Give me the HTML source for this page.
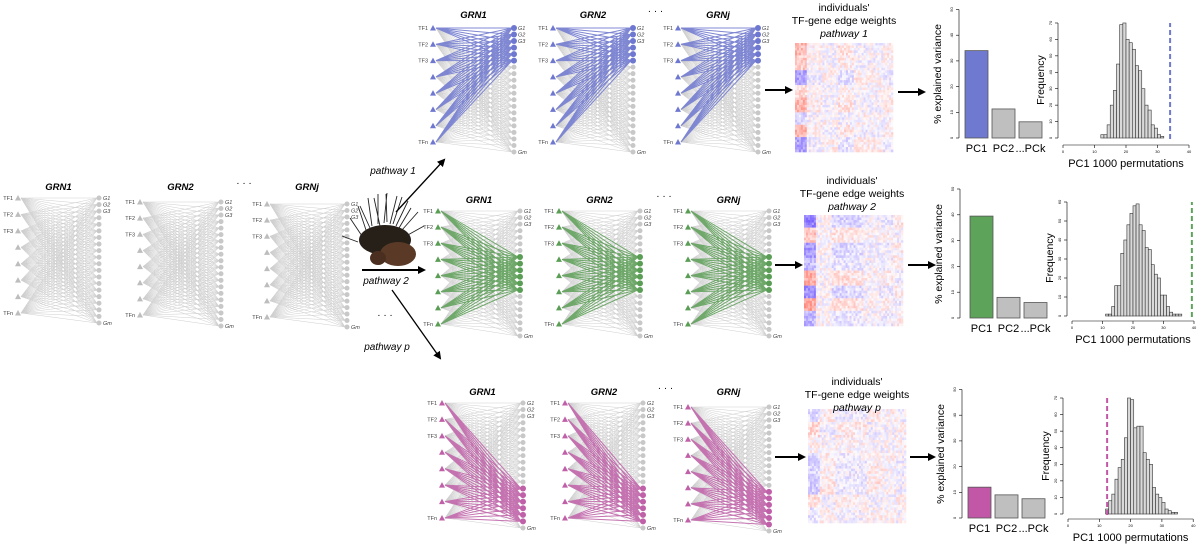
<!DOCTYPE html>
<html><head><meta charset="utf-8"><style>
html,body{margin:0;padding:0;background:#fff;}
svg{display:block;font-family:"Liberation Sans",sans-serif;}
</style></head><body>
<svg id="fig" width="1200" height="548" viewBox="0 0 1200 548" xmlns="http://www.w3.org/2000/svg">
<defs><marker id="ah" markerWidth="8" markerHeight="8" refX="6" refY="4" orient="auto" markerUnits="userSpaceOnUse"><path d="M0,0 L8,4 L0,8 z" fill="#000"/></marker></defs>
<g id="nets"></g>
<g id="misc">
  <g>
    <path d="M362,236 l-12,-18 M366,230 l-8,-24 M372,226 l-4,-28 M378,224 l0,-30 M384,223 l3,-30 M390,224 l7,-28 M396,226 l12,-25 M402,230 l16,-18 M406,236 l18,-10 M358,242 l-16,-6 M370,228 l-10,-22 M387,222 l-1,-28 M399,228 l12,-20 M380,226 l-6,-28 M393,224 l9,-27" stroke="#222" stroke-width="0.9"/>
    <ellipse cx="385" cy="240" rx="26" ry="15" fill="#262019"/>
    <ellipse cx="398" cy="254" rx="18" ry="12" fill="#5a3a26"/>
    <ellipse cx="378" cy="258" rx="8" ry="7" fill="#4a2f20"/>
  </g>
  <line x1="396" y1="212" x2="444" y2="160" stroke="#000" stroke-width="1.3" marker-end="url(#ah)"/>
  <line x1="362" y1="270" x2="424" y2="270" stroke="#000" stroke-width="2" marker-end="url(#ah)"/>
  <line x1="392" y1="290" x2="440" y2="358" stroke="#000" stroke-width="1.3" marker-end="url(#ah)"/>
  <text x="393" y="174" font-size="10" font-style="italic" text-anchor="middle">pathway 1</text>
  <text x="386" y="284" font-size="10" font-style="italic" text-anchor="middle">pathway 2</text>
  <text x="385" y="318" font-size="10" text-anchor="middle">· · ·</text>
  <text x="387" y="350" font-size="10" font-style="italic" text-anchor="middle">pathway p</text>
</g>
<g id="charts"></g>
</svg>
<script>
// ---- chart data ----
var barCats = ["PC1", "PC2", "...PCk"];
var barTop = [34, 11.3, 6.3];
var barMid = [39.5, 8, 6];
var barBot = [12, 9, 7.5];
var histBinsTop = [12,13,14,15,16,17,18,19,20,21,22,23,24,25,26,27,28,29,30,31];
var histTop = [2,2,8,20,29,45,69,70,60,58,54,44,41,30,20,17,8,6,2,1];
var histBinsMid = [11,12,13,14,15,16,17,18,19,20,21,22,23,24,25,26,27,28,29,30,31,32,33,34,35];
var histMid = [1,1,5,16,16,33,40,48,54,58,59,48,45,36,35,27,22,20,11,11,5,2,1,1,1];
var histBinsBot = [12,13,14,15,16,17,18,19,20,21,22,23,24,25,26,27,28,29,30,31,32,33,34];
var histBot = [3,8,12,21,28,33,46,70,69,52,53,53,37,33,30,16,12,10,7,3,2,1,1];
var obsTop = 34, obsMid = 39.3, obsBot = 12.5;
var xTicks = [0,10,20,30,40];

var NS = "http://www.w3.org/2000/svg";
function mk(tag, attrs, parent) {
  var e = document.createElementNS(NS, tag);
  for (var k in attrs) e.setAttribute(k, attrs[k]);
  parent.appendChild(e);
  return e;
}
function txt(s, attrs, parent) { var t = mk("text", attrs, parent); t.textContent = s; return t; }

// ---- networks ----
var nets = document.getElementById("nets");
function drawNet(name, tfx, gx, y0, yTfn, yGm, color, hi, title, ty) {
  var g = mk("g", {}, nets);
  
  
  var nTf = 8, nG = 20, i, j;
  var tfy = [], gy = [];
  for (i = 0; i < nTf; i++) tfy.push(y0 + (yTfn - y0) * i / (nTf - 1));
  for (j = 0; j < nG; j++) gy.push(y0 + (yGm - y0) * j / (nG - 1));
  var d = "";
  for (i = 0; i < nTf; i++) for (j = 0; j < nG; j++) d += "M" + (tfx + 3) + "," + tfy[i] + "L" + (gx - 2) + "," + gy[j];
  mk("path", {d: d, stroke: "#cfcfcf", "stroke-width": 0.5, fill: "none"}, g);
  if (color) {
    var d2 = "";
    for (i = 0; i < nTf; i++) hi.forEach(function (j) { d2 += "M" + (tfx + 3) + "," + tfy[i] + "L" + (gx - 2) + "," + gy[j]; });
    mk("path", {d: d2, stroke: color, "stroke-width": 1, fill: "none", opacity: 0.85}, g);
  }
  for (i = 0; i < nTf; i++) {
    var y = tfy[i];
    var tri = mk("path", {d: "M" + (tfx - 3) + "," + (y + 2.5) + "L" + tfx + "," + (y - 3) + "L" + (tfx + 3) + "," + (y + 2.5) + "z", fill: color || "#bdbdbd"}, g);
    
    
  }
  for (j = 0; j < nG; j++) {
    var on = color && hi.indexOf(j) >= 0;
    var c = mk("circle", {cx: gx, cy: gy[j], r: on ? 3 : 2.5, fill: on ? color : "#c8c8c8"}, g);
    
    
  }
  var lab = ["TF1", "TF2", "TF3"];
  for (i = 0; i < 3; i++) txt(lab[i], {x: tfx - 5, y: tfy[i] + 2, "font-size": 5.5, "text-anchor": "end", fill: "#444"}, g);
  txt("TFn", {x: tfx - 5, y: tfy[7] + 2, "font-size": 5.5, "text-anchor": "end", fill: "#444"}, g);
  var gl = ["G1", "G2", "G3"];
  for (j = 0; j < 3; j++) txt(gl[j], {x: gx + 4, y: gy[j] + 2, "font-size": 5.5, "font-style": "italic", fill: "#444"}, g);
  txt("Gm", {x: gx + 4, y: gy[19] + 2, "font-size": 5.5, "font-style": "italic", fill: "#444"}, g);
  var t = txt(title, {x: (tfx + gx) / 2, y: ty, "font-size": 9.5, "font-weight": "bold", "font-style": "italic", "text-anchor": "middle"}, g);
  
  
}
var rows = [
  {nm: "base", color: null, hi: [], ty: 190, n: [[18,99,198,313,323],[140,221,202,315,326],[267,347,204,317,327]]},
  {nm: "pathway1", color: "#6f78d0", hi: [0,1,2,3,4,5], ty: 18, n: [[433,514,28,142,152],[553,633,28,142,152],[678,758,28,142,152]]},
  {nm: "pathway2", color: "#5a9e55", hi: [7,8,9,10,11,12], ty: 203, n: [[438,520,211,324,336],[559,640,211,324,336],[688,769,211,324,336]]},
  {nm: "pathwayp", color: "#c060a8", hi: [13,14,15,16,17,18], ty: 395, n: [[442,523,403,518,528],[565,643,403,518,528],[688,769,407,520,531]]}
];
var titles = ["GRN1", "GRN2", "GRNj"];
rows.forEach(function (r) {
  r.n.forEach(function (p, k) { drawNet(r.nm + "-grn-" + (k + 1), p[0], p[1], p[2], p[3], p[4], r.color, r.hi, titles[k], r.ty); });
  var e = txt("· · ·", {x: (r.n[1][1] + r.n[2][0]) / 2, y: r.ty - 4, "font-size": 10, "text-anchor": "middle"}, nets);
  
  
});

// ---- heatmaps (decorative texture) ----
var seed = 11;
function rnd() { seed = (seed * 1103515245 + 12345) % 2147483648; return seed / 2147483648; }
function heat(name, x, y, w, h, strength) {
  var g = mk("g", {}, nets);
  
  
  var cols = 50, rws = 44, cw = w / cols, ch = h / rws;
  var cg = [], rg = [], c, r;
  var nCg = 7, nRg = 8, cBlk = [], rBlk = [];
  for (c = 0; c < nCg; c++) cBlk.push(c === 0 ? 1.4 : (rnd() - 0.5) * 1.2);
  for (r = 0; r < nRg; r++) rBlk.push((rnd() - 0.5) * 1.6);
  var cb = [0, 6, 14, 22, 30, 38, 45, 50], rb = [0, 5, 11, 17, 22, 28, 33, 38, 44];
  for (r = 0; r < rws; r++) for (c = 0; c < cols; c++) {
    var ci = 0; while (c >= cb[ci + 1]) ci++;
    var ri = 0; while (r >= rb[ri + 1]) ri++;
    var v = rBlk[ri] * cBlk[ci] * strength * 0.5 + (rnd() - 0.5) * 0.35;
    v = Math.max(-0.85, Math.min(0.85, v));
    var R, G, B;
    if (v > 0) { R = 255; G = Math.round(250 - 190 * v); B = Math.round(250 - 210 * v); }
    else { R = Math.round(250 + 160 * v); G = Math.round(250 + 190 * v); B = 255; }
    mk("rect", {x: x + c * cw, y: y + r * ch, width: cw + 0.3, height: ch + 0.3, fill: "rgb(" + R + "," + G + "," + B + ")"}, g);
  }
}
heat("heatmap-pathway-1", 795, 43, 98, 109, 1.0);
heat("heatmap-pathway-2", 804, 215, 99, 111, 1.3);
heat("heatmap-pathway-p", 808, 409, 98, 114, 0.6);
function heatTitle(cx, y, p) {
  var g = mk("g", {"font-size": 10.5, "text-anchor": "middle"}, nets);
  
  
  txt("individuals'", {x: cx, y: y}, g);
  txt("TF-gene edge weights", {x: cx, y: y + 13}, g);
  txt(p, {x: cx, y: y + 26, "font-style": "italic"}, g);
}
heatTitle(844, 11, "pathway 1");
heatTitle(852, 184, "pathway 2");
heatTitle(857, 385, "pathway p");
function arrow(x1, y, x2, nm) {
  var a = mk("line", {x1: x1, y1: y, x2: x2, y2: y, stroke: "#000", "stroke-width": 2, "marker-end": "url(#ah)"}, nets);
  
  
}
arrow(765, 90, 791, "arrow-to-heatmap-1"); arrow(898, 92, 924, "arrow-to-pca-1");
arrow(775, 265, 801, "arrow-to-heatmap-2"); arrow(908, 265, 934, "arrow-to-pca-2");
arrow(775, 457, 804, "arrow-to-heatmap-p"); arrow(910, 457, 934, "arrow-to-pca-p");

// ---- PCA bar + histogram panels ----
var charts = document.getElementById("charts");
function panel(nm, color, bars, bins, freq, obs, B, H) {
  var g = mk("g", {}, charts);
  
  
  function by(v) { return B.y0 - v * B.px; }
  var ax = mk("g", {}, g);
  
  
  mk("line", {x1: B.ax, y1: by(0), x2: B.ax, y2: by(50), stroke: "#000", "stroke-width": 0.6}, ax);
  for (var t = 0; t <= 50; t += 10) {
    mk("line", {x1: B.ax - 3, y1: by(t), x2: B.ax, y2: by(t), stroke: "#000", "stroke-width": 0.6}, ax);
    txt(String(t), {x: B.ax - 6, y: by(t), "font-size": 4, "text-anchor": "middle", transform: "rotate(-90 " + (B.ax - 6) + " " + by(t) + ")"}, ax);
  }
  var yl = txt("% explained variance", {x: B.ax - 18, y: B.y0 - 64, "font-size": 10.5, "text-anchor": "middle", transform: "rotate(-90 " + (B.ax - 18) + " " + (B.y0 - 64) + ")"}, g);
  
  
  bars.forEach(function (v, i) {
    var x = B.bx + i * 27;
    var r = mk("rect", {x: x, y: by(v), width: 23, height: v * B.px, fill: i === 0 ? color : "#bfbfbf", stroke: "#555", "stroke-width": 0.8}, g);
    
    
    var l = txt(barCats[i], {x: x + 11.5, y: B.y0 + 14, "font-size": 11, "text-anchor": "middle"}, g);
    
    
  });
  function hx(v) { return H.x0 + v * H.pxX; }
  function hy(v) { return H.y0 - v * H.pxY; }
  var hax = mk("g", {}, g);
  
  
  mk("line", {x1: hx(0), y1: H.axY, x2: hx(40), y2: H.axY, stroke: "#000", "stroke-width": 0.6}, hax);
  xTicks.forEach(function (t) {
    mk("line", {x1: hx(t), y1: H.axY, x2: hx(t), y2: H.axY + 3, stroke: "#000", "stroke-width": 0.6}, hax);
    txt(String(t), {x: hx(t), y: H.axY + 8, "font-size": 4, "text-anchor": "middle"}, hax);
  });
  var ax2 = H.x0 - 5;
  mk("line", {x1: ax2, y1: hy(0), x2: ax2, y2: hy(H.max), stroke: "#000", "stroke-width": 0.6}, hax);
  for (t = 0; t <= H.max; t += 10) {
    mk("line", {x1: ax2 - 3, y1: hy(t), x2: ax2, y2: hy(t), stroke: "#000", "stroke-width": 0.6}, hax);
    txt(String(t), {x: ax2 - 6, y: hy(t), "font-size": 4, "text-anchor": "middle", transform: "rotate(-90 " + (ax2 - 6) + " " + hy(t) + ")"}, hax);
  }
  var fl = txt("Frequency", {x: ax2 - 14, y: H.y0 - 58, "font-size": 10.5, "text-anchor": "middle", transform: "rotate(-90 " + (ax2 - 14) + " " + (H.y0 - 58) + ")"}, g);
  
  
  var xl = txt("PC1 1000 permutations", {x: hx(20), y: H.axY + 22, "font-size": 11, "text-anchor": "middle"}, g);
  
  
  freq.forEach(function (f, i) {
    var r = mk("rect", {x: hx(bins[i]), y: hy(f), width: H.pxX, height: f * H.pxY, fill: "#d9d9d9", stroke: "#333", "stroke-width": 0.6}, g);
    
    
  });
  var ob = mk("line", {x1: hx(obs), y1: hy(0) + 1, x2: hx(obs), y2: hy(H.max), stroke: color, "stroke-width": 2, "stroke-dasharray": "5,3"}, g);
  
  
}
panel("pathway-1", "#6f79cf", barTop, histBinsTop, histTop, obsTop, {ax: 959, y0: 138, px: 2.57, bx: 965}, {x0: 1063, pxX: 3.15, axY: 145, y0: 138, pxY: 1.643, max: 70});
panel("pathway-2", "#5ea35a", barMid, histBinsMid, histMid, obsMid, {ax: 960, y0: 318, px: 2.58, bx: 970}, {x0: 1072, pxX: 3.05, axY: 321, y0: 316, pxY: 1.9, max: 60});
panel("pathway-p", "#c157a6", barBot, histBinsBot, histBot, obsBot, {ax: 962, y0: 518, px: 2.57, bx: 968}, {x0: 1068, pxX: 3.13, axY: 519, y0: 514, pxY: 1.657, max: 70});
</script>
</body></html>
